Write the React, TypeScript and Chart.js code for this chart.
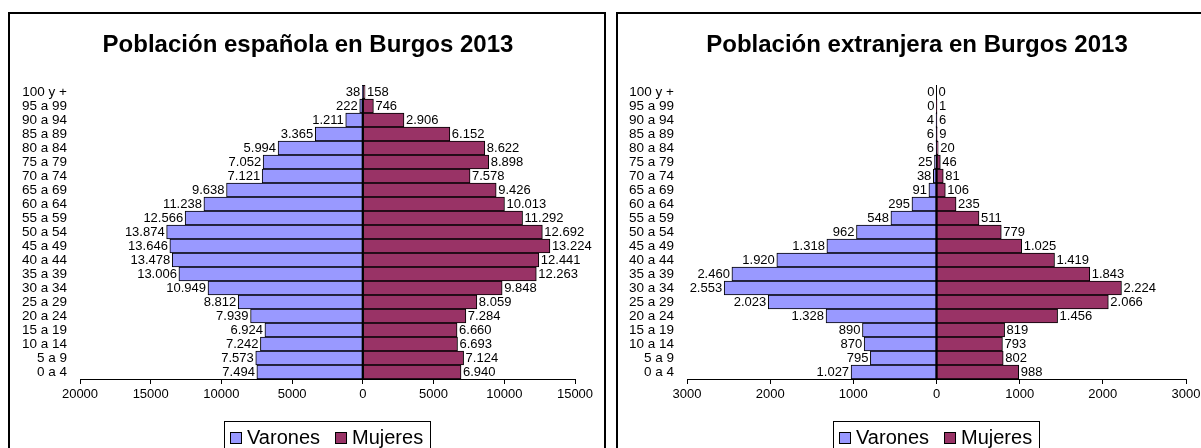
import React, { useEffect, useRef } from 'react';
import { Chart, registerables } from 'chart.js';

Chart.register(...registerables);

const AGE_GROUPS = [
  '100 y +', '95 a 99', '90 a 94', '85 a 89', '80 a 84', '75 a 79', '70 a 74',
  '65 a 69', '60 a 64', '55 a 59', '50 a 54', '45 a 49', '40 a 44', '35 a 39',
  '30 a 34', '25 a 29', '20 a 24', '15 a 19', '10 a 14', '5 a 9', '0 a 4',
];

const ESP_VARONES = [38, 222, 1211, 3365, 5994, 7052, 7121, 9638, 11238, 12566, 13874, 13646, 13478, 13006, 10949, 8812, 7939, 6924, 7242, 7573, 7494];
const ESP_MUJERES = [158, 746, 2906, 6152, 8622, 8898, 7578, 9426, 10013, 11292, 12692, 13224, 12441, 12263, 9848, 8059, 7284, 6660, 6693, 7124, 6940];

const EXT_VARONES = [0, 0, 4, 6, 6, 25, 38, 91, 295, 548, 962, 1318, 1920, 2460, 2553, 2023, 1328, 890, 870, 795, 1027];
const EXT_MUJERES = [0, 1, 6, 9, 20, 46, 81, 106, 235, 511, 779, 1025, 1419, 1843, 2224, 2066, 1456, 819, 793, 802, 988];

// axis: min, max, step
const ESP_AXIS = [-20000, 15000, 5000];
const EXT_AXIS = [-3000, 3000, 1000];

const SERIES_NAMES = ['Varones', 'Mujeres'];
const TITLES = ['Población española en Burgos 2013', 'Población extranjera en Burgos 2013'];

const FONT = 'Arial, "Liberation Sans", Helvetica, sans-serif';
const VARONES_COLOR = '#9999FF';
const MUJERES_COLOR = '#993366';

function fmt(v: number): string {
  return String(Math.abs(v)).replace(/\B(?=(\d{3})+(?!\d))/g, '.');
}

const decorPlugin = {
  id: 'decor',
  afterDatasetsDraw(chart: any) {
    const ctx = chart.ctx;
    ctx.save();
    ctx.font = `13px ${FONT}`;
    ctx.fillStyle = '#000';
    ctx.textBaseline = 'middle';
    chart.data.datasets.forEach((ds: any, di: number) => {
      const meta = chart.getDatasetMeta(di);
      meta.data.forEach((el: any, i: number) => {
        const raw = ds.data[i] as number;
        const { x, y, base } = el.getProps(['x', 'y', 'base'], true);
        if (di === 0) {
          ctx.textAlign = 'right';
          ctx.fillText(fmt(raw), Math.min(x, base) - 2, y);
        } else {
          ctx.textAlign = 'left';
          ctx.fillText(fmt(raw), Math.max(x, base) + 2, y);
        }
      });
    });
    ctx.restore();
  },
  afterDraw(chart: any, _args: any, opts: any) {
    const ctx = chart.ctx;
    ctx.save();
    // title
    ctx.font = `bold 24px ${FONT}`;
    ctx.fillStyle = '#000';
    ctx.textAlign = 'center';
    ctx.textBaseline = 'middle';
    ctx.fillText(opts.title, opts.titleX, opts.titleY);
    // legend
    ctx.font = `20px ${FONT}`;
    const colors = [VARONES_COLOR, MUJERES_COLOR];
    const widths = SERIES_NAMES.map((n) => ctx.measureText(n).width);
    const padL = 6, sq = 12, gap = 5, itemGap = 15, padR = 7;
    const total = padL + sq + gap + widths[0] + itemGap + sq + gap + widths[1] + padR;
    const left = Math.round(opts.legendCx - total / 2);
    const top = opts.legendTop;
    ctx.fillStyle = '#fff';
    ctx.fillRect(left, top, total, 40);
    ctx.strokeStyle = '#000';
    ctx.lineWidth = 1;
    ctx.strokeRect(left + 0.5, top + 0.5, Math.round(total), 40);
    let x = left + padL;
    SERIES_NAMES.forEach((name, i) => {
      ctx.fillStyle = colors[i];
      ctx.fillRect(x, top + 11, sq, sq);
      ctx.strokeStyle = '#000';
      ctx.strokeRect(x + 0.5, top + 11.5, sq - 1, sq - 1);
      x += sq + gap;
      ctx.fillStyle = '#000';
      ctx.textAlign = 'left';
      ctx.textBaseline = 'middle';
      ctx.fillText(name, x, top + 17.5);
      x += widths[i] + itemGap;
    });
    ctx.restore();
  },
};

function makeConfig(
  title: string,
  varones: number[],
  mujeres: number[],
  axis: number[],
  yWidth: number,
  rightPad: number,
  titleX: number,
  legendCx: number,
): any {
  return {
    type: 'bar',
    data: {
      labels: AGE_GROUPS,
      datasets: [
        {
          label: SERIES_NAMES[0],
          data: varones.map((v) => -v),
          backgroundColor: VARONES_COLOR,
          borderColor: '#000',
          borderWidth: 1,
          borderSkipped: false,
          barPercentage: 1,
          categoryPercentage: 1,
        },
        {
          label: SERIES_NAMES[1],
          data: mujeres,
          backgroundColor: MUJERES_COLOR,
          borderColor: '#000',
          borderWidth: 1,
          borderSkipped: false,
          barPercentage: 1,
          categoryPercentage: 1,
        },
      ],
    },
    options: {
      indexAxis: 'y',
      responsive: false,
      animation: false,
      devicePixelRatio: 1,
      events: [],
      layout: { padding: { left: 0, right: rightPad, top: 85, bottom: 39 } },
      plugins: {
        legend: { display: false },
        title: { display: false },
        tooltip: { enabled: false },
        decor: { title, titleX, titleY: 45, legendCx, legendTop: 421 },
      },
      scales: {
        x: {
          type: 'linear',
          stacked: true,
          min: axis[0],
          max: axis[1],
          ticks: {
            stepSize: axis[2],
            callback: (v: any) => String(Math.abs(Number(v))),
            font: { family: FONT, size: 13 },
            color: '#000',
            padding: 3,
            maxRotation: 0,
            autoSkip: false,
          },
          grid: {
            color: (c: any) => (c.tick && c.tick.value === 0 ? '#000' : 'rgba(0,0,0,0)'),
            tickColor: '#000',
            tickLength: 5,
            drawTicks: true,
            lineWidth: 1,
          },
          border: { display: true, color: '#000', width: 1 },
          afterFit: (s: any) => {
            s.height = 30;
          },
        },
        y: {
          type: 'category',
          stacked: true,
          ticks: {
            font: { family: FONT, size: 13.5 },
            color: '#000',
            padding: 13,
            autoSkip: false,
          },
          grid: { display: false, drawTicks: false },
          border: { display: false },
          afterFit: (s: any) => {
            s.width = yWidth;
          },
        },
      },
    },
    plugins: [decorPlugin],
  };
}

function PyramidChart(props: { config: any; width: number; height: number }) {
  const ref = useRef<HTMLCanvasElement | null>(null);
  useEffect(() => {
    if (!ref.current) return;
    const chart = new Chart(ref.current, props.config);
    return () => chart.destroy();
  }, []);
  return <canvas ref={ref} width={props.width} height={props.height} style={{ display: 'block' }} />;
}

export default function App() {
  const leftCfg = makeConfig(TITLES[0], ESP_VARONES, ESP_MUJERES, ESP_AXIS, 80, 35, 308, 327);
  const rightCfg = makeConfig(TITLES[1], EXT_VARONES, EXT_MUJERES, EXT_AXIS, 77, 24, 307, 326);
  return (
    <div style={{ position: 'fixed', left: 0, top: 0, width: 1201, height: 448, overflow: 'hidden', background: '#fff' }}>
      <div style={{ position: 'absolute', left: 8, top: 12, width: 598, height: 500, border: '2px solid #000', boxSizing: 'border-box' }} />
      <div style={{ position: 'absolute', left: 616, top: 12, width: 620, height: 500, border: '2px solid #000', boxSizing: 'border-box' }} />
      <div style={{ position: 'absolute', left: 0, top: 0, width: 610, height: 448 }}>
        <PyramidChart config={leftCfg} width={610} height={448} />
      </div>
      <div style={{ position: 'absolute', left: 610, top: 0, width: 600, height: 448 }}>
        <PyramidChart config={rightCfg} width={600} height={448} />
      </div>
    </div>
  );
}
